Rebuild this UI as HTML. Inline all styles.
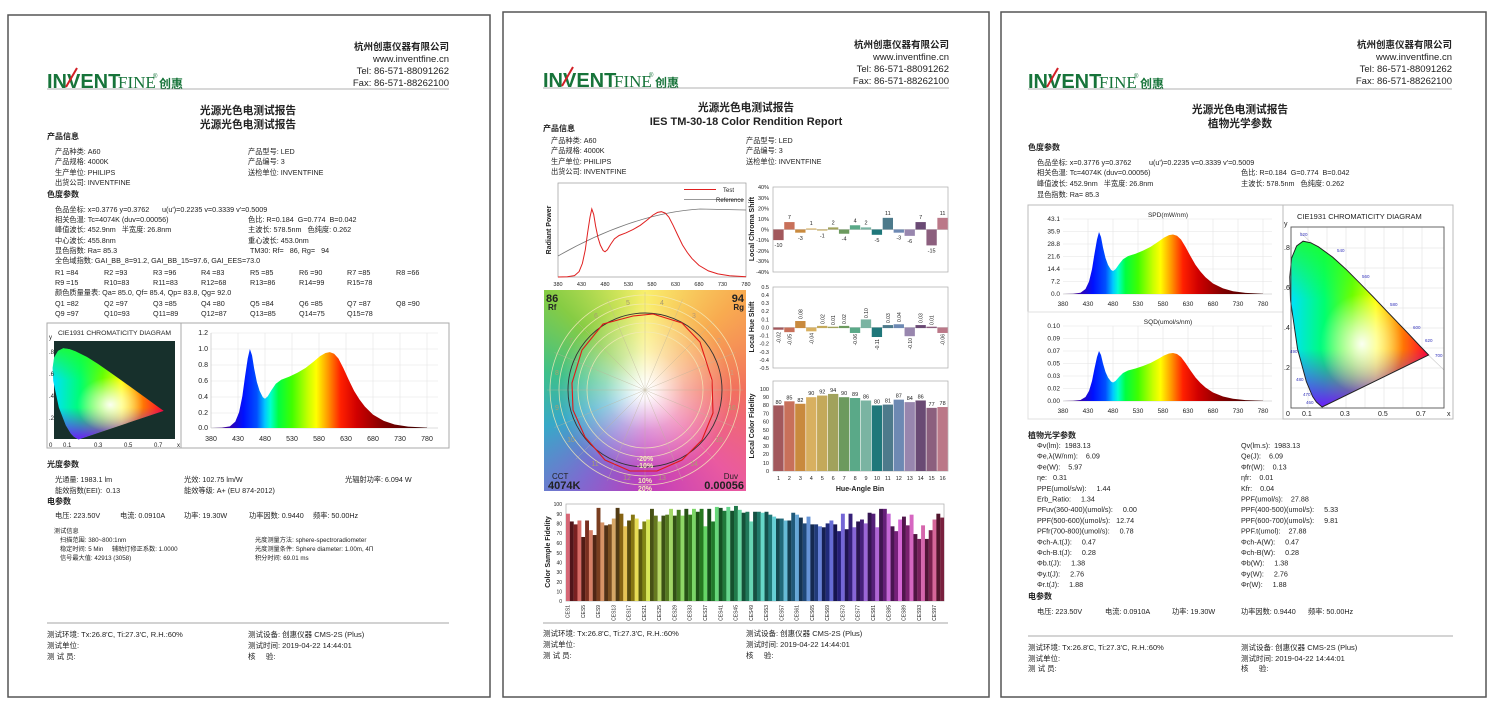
<!DOCTYPE html>
<html><head><meta charset="utf-8">
<style>
html,body{margin:0;padding:0;background:#fff;}
body{width:1500px;height:706px;position:relative;overflow:hidden;}
#cvg{position:absolute;left:544px;top:290px;width:202px;height:201px;
background:radial-gradient(circle at 50% 50%,#fff 0,rgba(255,255,255,.95) 6%,rgba(255,255,255,.45) 28%,rgba(255,255,255,0) 60%),
conic-gradient(from 0deg at 50% 50%,#f9ef6c,#f8ab50 45deg,#f2705e 90deg,#ea5aa0 135deg,#bf3cbc 180deg,#7e6ad0 215deg,#38a8c8 250deg,#3ec08a 280deg,#86cc44 315deg,#d0e45a 345deg,#f9ef6c);}
svg{position:absolute;left:0;top:0;}
text{font-family:"Liberation Sans","Noto Sans CJK SC",sans-serif;fill:#222;white-space:pre;}
.b{font-weight:bold}
.s{font-size:7.2px}
.h{font-size:8px;font-weight:bold}
.t{font-size:6px}
.ax{font-size:5.5px;fill:#333}
</style></head><body>
<div id="cvg"></div>
<svg id="S" width="1500" height="706" viewBox="0 0 1500 706">
<defs>
<linearGradient id="rb" x1="0" x2="1" y1="0" y2="0">
<stop offset="0" stop-color="#2a0050"/><stop offset=".075" stop-color="#3a00a0"/><stop offset=".15" stop-color="#0010ff"/><stop offset=".2125" stop-color="#0050ff"/><stop offset=".25" stop-color="#00c8ff"/><stop offset=".275" stop-color="#00ffd0"/><stop offset=".3125" stop-color="#00ff40"/><stop offset=".375" stop-color="#40ff00"/><stop offset=".45" stop-color="#c8ff00"/><stop offset=".4875" stop-color="#ffff00"/><stop offset=".5375" stop-color="#ffa000"/><stop offset=".6" stop-color="#ff2000"/><stop offset=".675" stop-color="#d00000"/><stop offset=".8" stop-color="#800000"/><stop offset="1" stop-color="#300000"/>
</linearGradient>
<linearGradient id="ch" x1="0" x2="1" y1="0" y2="0">
<stop offset="0" stop-color="#00e0ff"/><stop offset=".25" stop-color="#00ff70"/><stop offset=".45" stop-color="#70ff00"/><stop offset=".62" stop-color="#ffff00"/><stop offset=".8" stop-color="#ff8000"/><stop offset="1" stop-color="#ff0030"/>
</linearGradient>
<linearGradient id="cv" x1="0" x2="0" y1="0" y2="1">
<stop offset="0" stop-color="#20ff20" stop-opacity=".8"/><stop offset=".35" stop-color="#20ff20" stop-opacity="0"/><stop offset=".65" stop-color="#7020ff" stop-opacity="0"/><stop offset="1" stop-color="#7010ff" stop-opacity=".95"/>
</linearGradient>
<radialGradient id="cw" cx=".52" cy=".62" r=".3"><stop offset="0" stop-color="#fff" stop-opacity=".95"/><stop offset="1" stop-color="#fff" stop-opacity="0"/></radialGradient>
<path id="loc" d="M174,-5 L144,-30 L124,-58 L91,-133 L45,-295 L8,-538 L4,-655 L14,-750 L40,-810 L74,-834 L115,-826 L155,-806 L230,-754 L302,-692 L373,-624 L444,-555 L512,-487 L627,-373 L691,-308 L735,-265 Z"/>
<path id="spd" d="M380,0 L400,-0.005 L415,-0.02 L425,-0.08 L432,-0.2 L438,-0.4 L443,-0.65 L448,-0.88 L452,-1 L456,-0.92 L460,-0.75 L465,-0.58 L470,-0.47 L476,-0.39 L480,-0.37 L485,-0.4 L492,-0.48 L500,-0.56 L510,-0.61 L525,-0.65 L540,-0.7 L555,-0.76 L570,-0.84 L582,-0.91 L592,-0.95 L600,-0.96 L608,-0.94 L616,-0.88 L625,-0.76 L635,-0.61 L645,-0.47 L655,-0.36 L665,-0.27 L680,-0.17 L700,-0.09 L720,-0.045 L745,-0.018 L780,-0.004 L780,0 Z"/>
<g id="locfill">
<use href="#loc" fill="url(#ch)"/><use href="#loc" fill="url(#cv)"/><use href="#loc" fill="url(#cw)"/>
</g>
<g id="logo">
<text x="47" y="88" class="b" style="font-size:20px;fill:#17743a">INVENT</text>
<line x1="66" y1="87" x2="77" y2="68" stroke="#d21f26" stroke-width="2"/>
<text x="118" y="88" style="font-family:'Liberation Serif',serif;font-size:17px;fill:#17743a">FINE</text>
<text x="153" y="78" style="font-size:6px;fill:#17743a">®</text>
<text x="159" y="88" class="b" style="font-size:12px;fill:#17743a">创惠</text>
</g>
</defs>

<!-- page borders -->
<rect x="8" y="15" width="482" height="682" fill="none" stroke="#555" stroke-width="1.5"/>
<rect x="503" y="12" width="486" height="685" fill="none" stroke="#555" stroke-width="1.5"/>
<rect x="1001" y="12" width="485" height="685" fill="none" stroke="#555" stroke-width="1.5"/>

<!-- ================= PAGE 1 ================= -->
<use href="#logo"/>
<g text-anchor="end" style="font-size:9.5px">
<text x="449" y="50" class="b">杭州创惠仪器有限公司</text>
<text x="449" y="62">www.inventfine.cn</text>
<text x="449" y="74">Tel: 86-571-88091262</text>
<text x="449" y="86">Fax: 86-571-88262100</text>
</g>
<line x1="47" y1="89" x2="449" y2="89" stroke="#999" stroke-width=".8"/>
<text x="248" y="114" text-anchor="middle" class="b" style="font-size:10.7px">光源光色电测试报告</text>
<text x="248" y="128" text-anchor="middle" class="b" style="font-size:10.7px">光源光色电测试报告</text>
<text x="47" y="139" class="h">产品信息</text>
<g class="s">
<text x="55" y="154">产品种类: A60</text><text x="248" y="154">产品型号: LED</text>
<text x="55" y="164">产品规格: 4000K</text><text x="248" y="164">产品编号: 3</text>
<text x="55" y="175">生产单位: PHILIPS</text><text x="248" y="175">送检单位: INVENTFINE</text>
<text x="55" y="185">出货公司: INVENTFINE</text>
</g>
<text x="47" y="197" class="h">色度参数</text>
<g class="s">
<text x="55" y="212">色品坐标: x=0.3776 y=0.3762</text><text x="162" y="212">u(u')=0.2235 v=0.3339 v'=0.5009</text>
<text x="55" y="222">相关色温: Tc=4074K (duv=0.00056)</text><text x="248" y="222">色比: R=0.184  G=0.774  B=0.042</text>
<text x="55" y="232">峰值波长: 452.9nm   半宽度: 26.8nm</text><text x="248" y="232">主波长: 578.5nm   色纯度: 0.262</text>
<text x="55" y="243">中心波长: 455.8nm</text><text x="248" y="243">重心波长: 453.0nm</text>
<text x="55" y="253">显色指数: Ra= 85.3</text><text x="250" y="253">TM30: Rf=   86, Rg=   94</text>
<text x="55" y="263">全色域指数: GAI_BB_8=91.2, GAI_BB_15=97.6, GAI_EES=73.0</text>
<text x="55" y="275">R1 =84</text><text x="104" y="275">R2 =93</text><text x="153" y="275">R3 =96</text><text x="201" y="275">R4 =83</text><text x="250" y="275">R5 =85</text><text x="299" y="275">R6 =90</text><text x="347" y="275">R7 =85</text><text x="396" y="275">R8 =66</text>
<text x="55" y="285">R9 =15</text><text x="104" y="285">R10=83</text><text x="153" y="285">R11=83</text><text x="201" y="285">R12=68</text><text x="250" y="285">R13=86</text><text x="299" y="285">R14=99</text><text x="347" y="285">R15=78</text>
<text x="55" y="295">颜色质量量表: Qa= 85.0, Qf= 85.4, Qp= 83.8, Qg= 92.0</text>
<text x="55" y="306">Q1 =82</text><text x="104" y="306">Q2 =97</text><text x="153" y="306">Q3 =85</text><text x="201" y="306">Q4 =80</text><text x="250" y="306">Q5 =84</text><text x="299" y="306">Q6 =85</text><text x="347" y="306">Q7 =87</text><text x="396" y="306">Q8 =90</text>
<text x="55" y="316">Q9 =97</text><text x="104" y="316">Q10=93</text><text x="153" y="316">Q11=89</text><text x="201" y="316">Q12=87</text><text x="250" y="316">Q13=85</text><text x="299" y="316">Q14=75</text><text x="347" y="316">Q15=78</text>
</g>
<rect x="47" y="323" width="402" height="125" fill="none" stroke="#aaa"/>
<line x1="181" y1="323" x2="181" y2="448" stroke="#aaa"/>
<text x="58" y="335" style="font-size:6.8px">CIE1931 CHROMATICITY DIAGRAM</text>
<rect x="54" y="341" width="121" height="98" fill="#17302c"/>
<g transform="translate(52,440) scale(0.152,0.11)"><use href="#locfill"/></g>
<g class="t"><text x="49" y="339">y</text><text x="49" y="354">.8</text><text x="49" y="376">.6</text><text x="49" y="398">.4</text><text x="49" y="420">.2</text>
<text x="49" y="447">0</text><text x="63" y="447">0.1</text><text x="94" y="447">0.3</text><text x="124" y="447">0.5</text><text x="154" y="447">0.7</text><text x="177" y="447">x</text></g>
<g stroke="#e4e4e4" stroke-width=".6">
<line x1="238" y1="333" x2="238" y2="428"/><line x1="265" y1="333" x2="265" y2="428"/><line x1="292" y1="333" x2="292" y2="428"/><line x1="319" y1="333" x2="319" y2="428"/><line x1="346" y1="333" x2="346" y2="428"/><line x1="373" y1="333" x2="373" y2="428"/><line x1="400" y1="333" x2="400" y2="428"/><line x1="427" y1="333" x2="427" y2="428"/>
<line x1="211" y1="333" x2="438" y2="333"/><line x1="211" y1="349" x2="438" y2="349"/><line x1="211" y1="365" x2="438" y2="365"/><line x1="211" y1="381" x2="438" y2="381"/><line x1="211" y1="397" x2="438" y2="397"/><line x1="211" y1="413" x2="438" y2="413"/>
</g>
<line x1="211" y1="333" x2="211" y2="428" stroke="#bbb" stroke-width=".6"/>
<line x1="211" y1="428" x2="438" y2="428" stroke="#bbb" stroke-width=".6"/>
<g transform="translate(5.8,428) scale(0.54,79)"><use href="#spd" fill="url(#rb)"/></g>
<g style="font-size:7px" text-anchor="end"><text x="208" y="335">1.2</text><text x="208" y="351">1.0</text><text x="208" y="367">0.8</text><text x="208" y="383">0.6</text><text x="208" y="399">0.4</text><text x="208" y="415">0.2</text><text x="208" y="430">0.0</text></g>
<g style="font-size:7px" text-anchor="middle"><text x="211" y="441">380</text><text x="238" y="441">430</text><text x="265" y="441">480</text><text x="292" y="441">530</text><text x="319" y="441">580</text><text x="346" y="441">630</text><text x="373" y="441">680</text><text x="400" y="441">730</text><text x="427" y="441">780</text></g>

<text x="47" y="467" class="h">光度参数</text>
<g class="s">
<text x="55" y="482">光通量: 1983.1 lm</text><text x="184" y="482">光效: 102.75 lm/W</text><text x="345" y="482">光辐射功率: 6.094 W</text>
<text x="55" y="493">能效指数(EEI):  0.13</text><text x="184" y="493">能效等级: A+ (EU 874-2012)</text>
</g>
<text x="47" y="504" class="h">电参数</text>
<g class="s">
<text x="55" y="518">电压: 223.50V</text><text x="120" y="518">电流: 0.0910A</text><text x="184" y="518">功率: 19.30W</text><text x="249" y="518">功率因数: 0.9440</text><text x="313" y="518">频率: 50.00Hz</text>
</g>
<g style="font-size:6.2px">
<text x="54" y="533">测试信息</text>
<text x="60" y="542">扫描范围: 380~800:1nm</text><text x="255" y="542">光度测量方法: sphere-spectroradiometer</text>
<text x="60" y="551">稳定时间: 5 Min     辅助灯修正系数: 1.0000</text><text x="255" y="551">光度测量条件: Sphere diameter: 1.00m, 4П</text>
<text x="60" y="560">信号最大值: 42913 (3058)</text><text x="255" y="560">积分时间: 69.01 ms</text>
</g>
<line x1="47" y1="623" x2="449" y2="623" stroke="#888" stroke-width=".8"/>
<g style="font-size:7.5px">
<text x="47" y="637">测试环境: Tx:26.8'C, Ti:27.3'C, R.H.:60%</text><text x="248" y="637">测试设备: 创惠仪器 CMS-2S (Plus)</text>
<text x="47" y="648">测试单位:</text><text x="248" y="648">测试时间: 2019-04-22 14:44:01</text>
<text x="47" y="659">测 试 员:</text><text x="248" y="659">核     验:</text>
</g>

<!-- ================= PAGE 2 ================= -->
<g transform="translate(496,-1)"><use href="#logo"/></g>
<g text-anchor="end" style="font-size:9.5px">
<text x="949" y="48" class="b">杭州创惠仪器有限公司</text>
<text x="949" y="60">www.inventfine.cn</text>
<text x="949" y="72">Tel: 86-571-88091262</text>
<text x="949" y="84">Fax: 86-571-88262100</text>
</g>
<line x1="543" y1="88" x2="949" y2="88" stroke="#999" stroke-width=".8"/>
<text x="746" y="111" text-anchor="middle" class="b" style="font-size:10.7px">光源光色电测试报告</text>
<text x="746" y="125" text-anchor="middle" class="b" style="font-size:11px">IES TM-30-18 Color Rendition Report</text>
<text x="543" y="131" class="h">产品信息</text>
<g class="s">
<text x="551" y="143">产品种类: A60</text><text x="746" y="143">产品型号: LED</text>
<text x="551" y="153">产品规格: 4000K</text><text x="746" y="153">产品编号: 3</text>
<text x="551" y="164">生产单位: PHILIPS</text><text x="746" y="164">送检单位: INVENTFINE</text>
<text x="551" y="174">出货公司: INVENTFINE</text>
</g>
<!-- radiant power -->
<rect x="558" y="183" width="188" height="94" fill="none" stroke="#999" stroke-width=".7"/>
<text transform="translate(551,230) rotate(-90)" text-anchor="middle" class="b" style="font-size:7px">Radiant Power</text>
<path d="M558,256 C600,232 650,212 700,209 L746,210" fill="none" stroke="#777" stroke-width=".8"/>
<path id="testc" d="" fill="none" stroke="#e02020" stroke-width="1"/>
<line x1="684" y1="189.5" x2="716" y2="189.5" stroke="#e02020"/><text x="723" y="192" class="t">Test</text>
<line x1="684" y1="199.5" x2="744" y2="199.5" stroke="#777" stroke-width=".8"/><text x="716" y="202" class="t">Reference</text>
<g class="ax" text-anchor="middle"><text x="558" y="286">380</text><text x="581.5" y="286">430</text><text x="605" y="286">480</text><text x="628.5" y="286">530</text><text x="652" y="286">580</text><text x="675.5" y="286">630</text><text x="699" y="286">680</text><text x="722.5" y="286">730</text><text x="746" y="286">780</text></g>
<!-- color vector graphic overlays -->
<g fill="none" stroke="#f3eab8" stroke-width=".8" opacity=".85">
<circle cx="645" cy="390" r="58"/><circle cx="645" cy="390" r="67"/><circle cx="645" cy="390" r="86"/><circle cx="645" cy="390" r="95"/>
</g>
<g stroke="#bdb39a" stroke-width=".5" opacity=".7" id="spokes"></g>
<circle cx="645" cy="390" r="77" fill="none" stroke="#333" stroke-width=".9"/>
<polygon points="653,314 633,316 603,324 582,350 572,383 573,410 585,437 605,460 630,471 657,471 682,460 702,440 713,413 712,380 700,342 682,323" fill="none" stroke="#e01818" stroke-width="1.1"/>
<g style="font-size:7px" text-anchor="middle">
<text x="732" y="375" style="fill:#c9a080">1</text><text x="719" y="343" style="fill:#c9a080">2</text><text x="694" y="318" style="fill:#b99a70">3</text><text x="662" y="305" style="fill:#a89a70">4</text><text x="628" y="305" style="fill:#a89a70">5</text><text x="596" y="318" style="fill:#a8a070">6</text><text x="571" y="343" style="fill:#a8a070">7</text><text x="557" y="375" style="fill:#a8a070">8</text><text x="557" y="410" style="fill:#a8a070">9</text><text x="571" y="442" style="fill:#a8a070">10</text><text x="595" y="466" style="fill:#a8a070">11</text><text x="627" y="480" style="fill:#a8a070">12</text><text x="662" y="480" style="fill:#a8a070">13</text><text x="694" y="466" style="fill:#a8a070">14</text><text x="719" y="442" style="fill:#a8a070">15</text><text x="732" y="410" style="fill:#a8a070">16</text>
</g>
<g class="b" text-anchor="middle" style="font-size:7px">
<text x="645" y="461" style="fill:#f5eebb">-20%</text><text x="645" y="468" style="fill:#f5eebb">-10%</text><text x="645" y="483" style="fill:#f5eebb">10%</text><text x="645" y="491" style="fill:#f5eebb">20%</text>
</g>
<text x="546" y="302" class="b" style="font-size:11px">86</text><text x="548" y="310" class="b" style="font-size:8px">Rf</text>
<text x="744" y="302" text-anchor="end" class="b" style="font-size:11px">94</text><text x="744" y="310" text-anchor="end" class="b" style="font-size:8px">Rg</text>
<text x="552" y="479" style="font-size:8px">CCT</text><text x="548" y="489" class="b" style="font-size:11px">4074K</text>
<text x="738" y="479" text-anchor="end" style="font-size:8px">Duv</text><text x="744" y="489" text-anchor="end" class="b" style="font-size:11px">0.00056</text>

<!-- chroma shift -->
<rect x="773" y="187" width="175" height="85" fill="none" stroke="#aaa" stroke-width=".7"/>
<line x1="773" y1="229.5" x2="948" y2="229.5" stroke="#999" stroke-width=".4"/>
<g id="bc"></g>
<text transform="translate(754,229) rotate(-90)" text-anchor="middle" class="b" style="font-size:7px">Local Chroma Shift</text>
<g class="ax" text-anchor="end"><text x="769" y="189">40%</text><text x="769" y="200">30%</text><text x="769" y="210.5">20%</text><text x="769" y="221">10%</text><text x="769" y="231.5">0%</text><text x="769" y="242">-10%</text><text x="769" y="253">-20%</text><text x="769" y="263">-30%</text><text x="769" y="274">-40%</text></g>
<g class="ax" text-anchor="middle">
<text x="778.5" y="247">-10</text><text x="789.4" y="219">7</text><text x="800.4" y="240">-3</text><text x="811.3" y="225">1</text><text x="822.3" y="237.5">-1</text><text x="833.2" y="224.4">2</text><text x="844.1" y="240.7">-4</text><text x="855.1" y="222.3">4</text><text x="866" y="224.4">2</text><text x="877" y="241.8">-5</text><text x="887.9" y="214.8">11</text><text x="898.8" y="239.7">-3</text><text x="909.8" y="242.9">-6</text><text x="920.7" y="219">7</text><text x="931.6" y="252.4">-15</text><text x="942.6" y="214.8">11</text>
</g>
<!-- hue shift -->
<rect x="773" y="287" width="175" height="81" fill="none" stroke="#aaa" stroke-width=".7"/>
<line x1="773" y1="327.5" x2="948" y2="327.5" stroke="#999" stroke-width=".4"/>
<g id="bh"></g>
<text transform="translate(754,327) rotate(-90)" text-anchor="middle" class="b" style="font-size:7px">Local Hue Shift</text>
<g class="ax" text-anchor="end"><text x="769" y="289">0.5</text><text x="769" y="297">0.4</text><text x="769" y="305">0.3</text><text x="769" y="313">0.2</text><text x="769" y="321.5">0.1</text><text x="769" y="329.5">0.0</text><text x="769" y="337.5">-0.1</text><text x="769" y="345.5">-0.2</text><text x="769" y="354">-0.3</text><text x="769" y="362">-0.4</text><text x="769" y="370">-0.5</text></g>
<g style="font-size:5px;fill:#333">
<text transform="translate(780.5,332) rotate(-90)" text-anchor="end">-0.02</text>
<text transform="translate(791.4,334) rotate(-90)" text-anchor="end">-0.05</text>
<text transform="translate(802.4,319) rotate(-90)">0.08</text>
<text transform="translate(813.3,333) rotate(-90)" text-anchor="end">-0.04</text>
<text transform="translate(824.3,324) rotate(-90)">0.02</text>
<text transform="translate(835.2,325) rotate(-90)">0.01</text>
<text transform="translate(846.1,324) rotate(-90)">0.02</text>
<text transform="translate(857.1,334) rotate(-90)" text-anchor="end">-0.06</text>
<text transform="translate(868,318) rotate(-90)">0.10</text>
<text transform="translate(879,339) rotate(-90)" text-anchor="end">-0.11</text>
<text transform="translate(889.9,323) rotate(-90)">0.03</text>
<text transform="translate(900.8,322) rotate(-90)">0.04</text>
<text transform="translate(911.8,338) rotate(-90)" text-anchor="end">-0.10</text>
<text transform="translate(922.7,323) rotate(-90)">0.03</text>
<text transform="translate(933.6,325) rotate(-90)">0.01</text>
<text transform="translate(944.6,334) rotate(-90)" text-anchor="end">-0.06</text>
</g>
<!-- fidelity -->
<rect x="773" y="381" width="175" height="90" fill="none" stroke="#aaa" stroke-width=".7"/>
<g id="bf"></g>
<text transform="translate(754,426) rotate(-90)" text-anchor="middle" class="b" style="font-size:7px">Local Color Fidelity</text>
<g class="ax" text-anchor="end"><text x="769" y="391">100</text><text x="769" y="399">90</text><text x="769" y="407">80</text><text x="769" y="415.5">70</text><text x="769" y="423.5">60</text><text x="769" y="432">50</text><text x="769" y="440">40</text><text x="769" y="448">30</text><text x="769" y="456">20</text><text x="769" y="465">10</text><text x="769" y="473">0</text></g>
<g class="ax" text-anchor="middle">
<text x="778.5" y="404">80</text><text x="789.4" y="399.3">85</text><text x="800.4" y="401.8">82</text><text x="811.3" y="395.2">90</text><text x="822.3" y="393.6">92</text><text x="833.2" y="391.9">94</text><text x="844.1" y="395.2">90</text><text x="855.1" y="396">89</text><text x="866" y="398.5">86</text><text x="877" y="403.4">80</text><text x="887.9" y="402.6">81</text><text x="898.8" y="397.7">87</text><text x="909.8" y="400.1">84</text><text x="920.7" y="398.5">86</text><text x="931.6" y="405.9">77</text><text x="942.6" y="405">78</text>
<text x="778.5" y="480">1</text><text x="789.4" y="480">2</text><text x="800.4" y="480">3</text><text x="811.3" y="480">4</text><text x="822.3" y="480">5</text><text x="833.2" y="480">6</text><text x="844.1" y="480">7</text><text x="855.1" y="480">8</text><text x="866" y="480">9</text><text x="877" y="480">10</text><text x="887.9" y="480">11</text><text x="898.8" y="480">12</text><text x="909.8" y="480">13</text><text x="920.7" y="480">14</text><text x="931.6" y="480">15</text><text x="942.6" y="480">16</text>
</g>
<text x="860" y="491" text-anchor="middle" class="b" style="font-size:7px">Hue-Angle Bin</text>
<!-- CES -->
<rect x="566" y="504" width="378" height="97" fill="none" stroke="#aaa" stroke-width=".7"/>
<g id="bces"></g>
<text transform="translate(550,552) rotate(-90)" text-anchor="middle" class="b" style="font-size:7px">Color Sample Fidelity</text>
<g style="font-size:5px;fill:#333" text-anchor="end"><text x="562" y="506">100</text><text x="562" y="516">90</text><text x="562" y="525.5">80</text><text x="562" y="535">70</text><text x="562" y="545">60</text><text x="562" y="555">50</text><text x="562" y="564.5">40</text><text x="562" y="574">30</text><text x="562" y="584">20</text><text x="562" y="593.5">10</text><text x="562" y="603">0</text></g>
<g style="font-size:5px;fill:#333" text-anchor="end">
<text transform="translate(569.5,605) rotate(-90)">CES1</text><text transform="translate(584.8,605) rotate(-90)">CES5</text><text transform="translate(600.1,605) rotate(-90)">CES9</text><text transform="translate(615.3,605) rotate(-90)">CES13</text><text transform="translate(630.6,605) rotate(-90)">CES17</text><text transform="translate(645.9,605) rotate(-90)">CES21</text><text transform="translate(661.2,605) rotate(-90)">CES25</text><text transform="translate(676.4,605) rotate(-90)">CES29</text><text transform="translate(691.7,605) rotate(-90)">CES33</text><text transform="translate(707,605) rotate(-90)">CES37</text><text transform="translate(722.3,605) rotate(-90)">CES41</text><text transform="translate(737.5,605) rotate(-90)">CES45</text><text transform="translate(752.8,605) rotate(-90)">CES49</text><text transform="translate(768.1,605) rotate(-90)">CES53</text><text transform="translate(783.4,605) rotate(-90)">CES57</text><text transform="translate(798.6,605) rotate(-90)">CES61</text><text transform="translate(813.9,605) rotate(-90)">CES65</text><text transform="translate(829.2,605) rotate(-90)">CES69</text><text transform="translate(844.5,605) rotate(-90)">CES73</text><text transform="translate(859.7,605) rotate(-90)">CES77</text><text transform="translate(875,605) rotate(-90)">CES81</text><text transform="translate(890.3,605) rotate(-90)">CES85</text><text transform="translate(905.6,605) rotate(-90)">CES89</text><text transform="translate(920.8,605) rotate(-90)">CES93</text><text transform="translate(936.1,605) rotate(-90)">CES97</text>
</g>
<line x1="543" y1="623" x2="948" y2="623" stroke="#888" stroke-width=".8"/>
<g style="font-size:7.5px">
<text x="543" y="636">测试环境: Tx:26.8'C, Ti:27.3'C, R.H.:60%</text><text x="746" y="636">测试设备: 创惠仪器 CMS-2S (Plus)</text>
<text x="543" y="647">测试单位:</text><text x="746" y="647">测试时间: 2019-04-22 14:44:01</text>
<text x="543" y="658">测 试 员:</text><text x="746" y="658">核     验:</text>
</g>

<!-- ================= PAGE 3 ================= -->
<g transform="translate(981,0)"><use href="#logo"/></g>
<g text-anchor="end" style="font-size:9.5px">
<text x="1452" y="48" class="b">杭州创惠仪器有限公司</text>
<text x="1452" y="60">www.inventfine.cn</text>
<text x="1452" y="72">Tel: 86-571-88091262</text>
<text x="1452" y="84">Fax: 86-571-88262100</text>
</g>
<line x1="1028" y1="89" x2="1452" y2="89" stroke="#999" stroke-width=".8"/>
<text x="1240" y="113" text-anchor="middle" class="b" style="font-size:10.7px">光源光色电测试报告</text>
<text x="1240" y="127" text-anchor="middle" class="b" style="font-size:10.7px">植物光学参数</text>
<text x="1028" y="150" class="h">色度参数</text>
<g class="s">
<text x="1037" y="165">色品坐标: x=0.3776 y=0.3762</text><text x="1149" y="165">u(u')=0.2235 v=0.3339 v'=0.5009</text>
<text x="1037" y="175">相关色温: Tc=4074K (duv=0.00056)</text><text x="1241" y="175">色比: R=0.184  G=0.774  B=0.042</text>
<text x="1037" y="186">峰值波长: 452.9nm   半宽度: 26.8nm</text><text x="1241" y="186">主波长: 578.5nm   色纯度: 0.262</text>
<text x="1037" y="197">显色指数: Ra= 85.3</text>
</g>
<rect x="1028" y="205" width="255" height="107" fill="none" stroke="#bbb"/>
<rect x="1028" y="312" width="255" height="107" fill="none" stroke="#e0e0e0"/>
<rect x="1283" y="205" width="170" height="214" fill="none" stroke="#bbb"/>
<!-- SPD -->
<g stroke="#e4e4e4" stroke-width=".6">
<line x1="1088" y1="219" x2="1088" y2="294"/><line x1="1113" y1="219" x2="1113" y2="294"/><line x1="1138" y1="219" x2="1138" y2="294"/><line x1="1163" y1="219" x2="1163" y2="294"/><line x1="1188" y1="219" x2="1188" y2="294"/><line x1="1213" y1="219" x2="1213" y2="294"/><line x1="1238" y1="219" x2="1238" y2="294"/><line x1="1263" y1="219" x2="1263" y2="294"/>
<line x1="1063" y1="219" x2="1272" y2="219"/><line x1="1063" y1="231.5" x2="1272" y2="231.5"/><line x1="1063" y1="244" x2="1272" y2="244"/><line x1="1063" y1="256.5" x2="1272" y2="256.5"/><line x1="1063" y1="269" x2="1272" y2="269"/><line x1="1063" y1="281.5" x2="1272" y2="281.5"/>
<line x1="1088" y1="326" x2="1088" y2="401"/><line x1="1113" y1="326" x2="1113" y2="401"/><line x1="1138" y1="326" x2="1138" y2="401"/><line x1="1163" y1="326" x2="1163" y2="401"/><line x1="1188" y1="326" x2="1188" y2="401"/><line x1="1213" y1="326" x2="1213" y2="401"/><line x1="1238" y1="326" x2="1238" y2="401"/><line x1="1263" y1="326" x2="1263" y2="401"/>
<line x1="1063" y1="326" x2="1272" y2="326"/><line x1="1063" y1="338.5" x2="1272" y2="338.5"/><line x1="1063" y1="351" x2="1272" y2="351"/><line x1="1063" y1="363.5" x2="1272" y2="363.5"/><line x1="1063" y1="376" x2="1272" y2="376"/><line x1="1063" y1="388.5" x2="1272" y2="388.5"/>
</g>
<line x1="1063" y1="294" x2="1272" y2="294" stroke="#bbb" stroke-width=".6"/>
<line x1="1063" y1="401" x2="1272" y2="401" stroke="#bbb" stroke-width=".6"/>
<g transform="translate(873,294) scale(0.5,62)"><use href="#spd" fill="url(#rb)"/></g>
<g transform="translate(873,401) scale(0.5,50)"><use href="#spd" fill="url(#rb)"/></g>
<text x="1168" y="217" text-anchor="middle" style="font-size:6.5px">SPD(mW/nm)</text>
<text x="1168" y="324" text-anchor="middle" style="font-size:6.5px">SQD(umol/s/nm)</text>
<g style="font-size:6.5px" text-anchor="end">
<text x="1060" y="221">43.1</text><text x="1060" y="233.5">35.9</text><text x="1060" y="246">28.8</text><text x="1060" y="258.5">21.6</text><text x="1060" y="271">14.4</text><text x="1060" y="283.5">7.2</text><text x="1060" y="296">0.0</text>
<text x="1060" y="328">0.10</text><text x="1060" y="340.5">0.09</text><text x="1060" y="353">0.07</text><text x="1060" y="365.5">0.05</text><text x="1060" y="378">0.03</text><text x="1060" y="390.5">0.02</text><text x="1060" y="403">0.00</text>
</g>
<g style="font-size:6.5px" text-anchor="middle">
<text x="1063" y="306">380</text><text x="1088" y="306">430</text><text x="1113" y="306">480</text><text x="1138" y="306">530</text><text x="1163" y="306">580</text><text x="1188" y="306">630</text><text x="1213" y="306">680</text><text x="1238" y="306">730</text><text x="1263" y="306">780</text>
<text x="1063" y="413">380</text><text x="1088" y="413">430</text><text x="1113" y="413">480</text><text x="1138" y="413">530</text><text x="1163" y="413">580</text><text x="1188" y="413">630</text><text x="1213" y="413">680</text><text x="1238" y="413">730</text><text x="1263" y="413">780</text>
</g>
<!-- CIE page 3 -->
<text x="1297" y="219" style="font-size:7.5px">CIE1931 CHROMATICITY DIAGRAM</text>
<g stroke="#ddd" stroke-width=".5" id="ciegrid"></g>
<line x1="1300" y1="232" x2="1444" y2="370" stroke="#ccc" stroke-width=".6"/>
<g transform="translate(1289,408) scale(0.19,0.2)"><use href="#locfill"/><use href="#loc" fill="none" stroke="#222" stroke-width="5"/></g>
<rect x="1291" y="227" width="153" height="181" fill="none" stroke="#555" stroke-width=".9"/>
<g style="font-size:4.5px">
<text x="1300" y="236" style="fill:#3333bb">520</text><text x="1337" y="252" style="fill:#3333bb">540</text><text x="1362" y="278" style="fill:#3333bb">560</text><text x="1390" y="306" style="fill:#3333bb">580</text><text x="1413" y="329" style="fill:#3333bb">600</text><text x="1425" y="342" style="fill:#3333bb">620</text><text x="1435" y="357" style="fill:#3333bb">700</text><text x="1290" y="353" style="fill:#3333bb">490</text><text x="1296" y="381" style="fill:#3333bb">480</text><text x="1303" y="396" style="fill:#3333bb">470</text><text x="1306" y="404" style="fill:#3333bb">460</text>
</g>
<g style="font-size:7px">
<text x="1284" y="226">y</text><text x="1284" y="250">.8</text><text x="1284" y="290">.6</text><text x="1284" y="330">.4</text><text x="1284" y="370">.2</text>
<text x="1286" y="416">0</text><text x="1302" y="416">0.1</text><text x="1340" y="416">0.3</text><text x="1378" y="416">0.5</text><text x="1416" y="416">0.7</text><text x="1447" y="416">x</text>
</g>
<text x="1028" y="438" class="h">植物光学参数</text>
<g class="s">
<text x="1037" y="448">Φv(lm):  1983.13</text><text x="1241" y="448">Qv(lm.s):  1983.13</text>
<text x="1037" y="458.7">Φe,λ(W/nm):    6.09</text><text x="1241" y="458.7">Qe(J):    6.09</text>
<text x="1037" y="469.4">Φe(W):    5.97</text><text x="1241" y="469.4">Φfr(W):    0.13</text>
<text x="1037" y="480.1">ηe:   0.31</text><text x="1241" y="480.1">ηfr:    0.01</text>
<text x="1037" y="490.8">PPE(umol/s/w):     1.44</text><text x="1241" y="490.8">Kfr:    0.04</text>
<text x="1037" y="501.5">Erb_Ratio:     1.34</text><text x="1241" y="501.5">PPF(umol/s):    27.88</text>
<text x="1037" y="512.2">PFuv(360-400)(umol/s):     0.00</text><text x="1241" y="512.2">PPF(400-500)(umol/s):     5.33</text>
<text x="1037" y="522.9">PPF(500-600)(umol/s):   12.74</text><text x="1241" y="522.9">PPF(600-700)(umol/s):     9.81</text>
<text x="1037" y="533.6">PFfr(700-800)(umol/s):     0.78</text><text x="1241" y="533.6">PPF.t(umol):    27.88</text>
<text x="1037" y="544.3">Φch-A.t(J):     0.47</text><text x="1241" y="544.3">Φch-A(W):     0.47</text>
<text x="1037" y="555">Φch-B.t(J):     0.28</text><text x="1241" y="555">Φch-B(W):     0.28</text>
<text x="1037" y="565.7">Φb.t(J):     1.38</text><text x="1241" y="565.7">Φb(W):     1.38</text>
<text x="1037" y="576.4">Φy.t(J):     2.76</text><text x="1241" y="576.4">Φy(W):     2.76</text>
<text x="1037" y="587.1">Φr.t(J):     1.88</text><text x="1241" y="587.1">Φr(W):     1.88</text>
</g>
<text x="1028" y="599" class="h">电参数</text>
<g class="s">
<text x="1037" y="614">电压: 223.50V</text><text x="1105" y="614">电流: 0.0910A</text><text x="1172" y="614">功率: 19.30W</text><text x="1241" y="614">功率因数: 0.9440</text><text x="1308" y="614">频率: 50.00Hz</text>
</g>
<line x1="1028" y1="636" x2="1453" y2="636" stroke="#aaa" stroke-width="1"/>
<g style="font-size:7.5px">
<text x="1028" y="650">测试环境: Tx:26.8'C, Ti:27.3'C, R.H.:60%</text><text x="1241" y="650">测试设备: 创惠仪器 CMS-2S (Plus)</text>
<text x="1028" y="661">测试单位:</text><text x="1241" y="661">测试时间: 2019-04-22 14:44:01</text>
<text x="1028" y="671">测 试 员:</text><text x="1241" y="671">核     验:</text>
</g>
</svg>
<script>
(function(){
var NS="http://www.w3.org/2000/svg";
function R(g,x,y,w,h,c){var r=document.createElementNS(NS,"rect");r.setAttribute("x",x);r.setAttribute("y",y);r.setAttribute("width",w);r.setAttribute("height",h);r.setAttribute("fill",c);g.appendChild(r);}
function L(g,x1,y1,x2,y2){var l=document.createElementNS(NS,"line");l.setAttribute("x1",x1);l.setAttribute("y1",y1);l.setAttribute("x2",x2);l.setAttribute("y2",y2);g.appendChild(l);}
var pts=[[380,0],[400,0.005],[415,0.02],[425,0.08],[432,0.2],[438,0.4],[443,0.65],[448,0.88],[452,1],[456,0.92],[460,0.75],[465,0.58],[470,0.47],[476,0.39],[480,0.37],[485,0.4],[492,0.48],[500,0.56],[510,0.61],[525,0.65],[540,0.7],[555,0.76],[570,0.84],[582,0.91],[592,0.95],[600,0.96],[608,0.94],[616,0.88],[625,0.76],[635,0.61],[645,0.47],[655,0.36],[665,0.27],[680,0.17],[700,0.09],[720,0.045],[745,0.018],[780,0.004]];
var d="";for(var p=0;p<pts.length;p++){d+=(p?"L":"M")+(558+(pts[p][0]-380)*0.47).toFixed(1)+","+(277-pts[p][1]*68).toFixed(1)+" ";}
document.getElementById("testc").setAttribute("d",d);
var cols=['#a2585c','#c8705a','#c98a3e','#d8b060','#c4a95a','#a1a25c','#6c9a5e','#5aa988','#7ab4a2','#1f777a','#4d7a8b','#6d89b3','#9886ae','#6a4a74','#8c5f7e','#bb7888'];
var cs=[-10,7,-3,1,-1,2,-4,4,2,-5,11,-3,-6,7,-15,11];
var hs=[-0.02,-0.05,0.08,-0.04,0.02,0.01,0.02,-0.06,0.10,-0.11,0.03,0.04,-0.10,0.03,0.01,-0.06];
var fs=[80,85,82,90,92,94,90,89,86,80,81,87,84,86,77,78];
var bw=175/16,bc=document.getElementById("bc"),bh=document.getElementById("bh"),bf=document.getElementById("bf");
for(var i=0;i<16;i++){var x=773+bw*i+0.3,w=bw-0.6;
var v=cs[i]*1.06;R(bc,x,v>0?229.5-v:229.5,w,Math.abs(v),cols[i]);
v=hs[i]*81;R(bh,x,v>0?327.5-v:327.5,w,Math.abs(v)+0.6,cols[i]);
v=fs[i]*0.82;R(bf,x,471-v,w,v,cols[i]);}
var ce=[90,82,79,83,66,83,73,68,96,81,78,79,85,96,90,77,83,89,85,74,82,84,95,88,82,88,89,95,88,94,88,95,89,95,92,95,77,95,82,97,96,93,97,93,98,94,91,92,82,92,92,91,92,89,87,85,85,83,83,91,89,86,80,87,79,79,77,76,80,83,79,72,90,74,90,76,82,84,80,91,90,76,95,95,90,77,72,84,87,78,89,69,64,78,64,73,84,90,86];
var g=document.getElementById("bces"),cw=378/99;
var ls=[62,45,30,55,40,20,50,35];
for(var j=0;j<99;j++){var hu=(-8+j*3.55+360)%360;var l=ls[(j*5+Math.floor(j/3))%8];var s=hu>40&&hu<70?75:58;
R(g,566+cw*j,601-ce[j]*0.97,cw+0.1,ce[j]*0.97,"hsl("+hu+","+s+"%,"+l+"%)");}
var sp=document.getElementById("spokes");
for(var k=0;k<16;k++){var a=k*22.5*Math.PI/180;L(sp,645,390,645+98*Math.cos(a),390-98*Math.sin(a));}
var cg=document.getElementById("ciegrid");
for(var q=1;q<8;q++){var X=1289+q*19;L(cg,X,227,X,408);}
for(var q=1;q<9;q++){var Y=408-q*20;L(cg,1291,Y,1444,Y);}
})();
</script>
</body></html>
